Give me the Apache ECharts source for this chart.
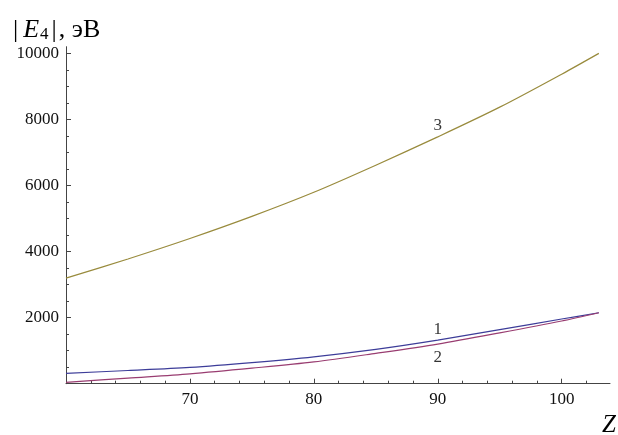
<!DOCTYPE html>
<html>
<head>
<meta charset="utf-8">
<script src="https://cdn.jsdelivr.net/npm/echarts@6/dist/echarts.min.js"></script>
<style>html,body{margin:0;padding:0;background:#fff;}#c{width:618px;height:435px;}</style>
</head>
<body>
<div id="c"></div>
<script>
// Z values (x)
const zValues = [60, 65, 70, 75, 80, 85, 90, 95, 100, 103];
// |E4| in eV for the three curves
const curve1 = [315, 400, 495, 640, 815, 1040, 1320, 1640, 1960, 2150];
const curve2 = [40, 170, 300, 470, 660, 920, 1200, 1540, 1900, 2150];
const curve3 = [3200, 3780, 4400, 5070, 5800, 6620, 7480, 8380, 9380, 10010];
// tick labels
const xTickLabels = [70, 80, 90, 100];
const yTickLabels = [2000, 4000, 6000, 8000, 10000];
const xTicks = [60, 70, 80, 90, 100];
const yTicks = [0, 2000, 4000, 6000, 8000, 10000];
// curve number annotations
const noteText = ['1', '2', '3'];
const noteZ = [90.0, 90.0, 90.0];
const noteV = [1630, 800, 7810];

const FONT = '"Liberation Serif", "DejaVu Serif", serif';
const axisColor = '#444';

function pairs(xs, ys) { return xs.map((x, i) => [x, ys[i]]); }

const chart = echarts.init(document.getElementById('c'), null, {renderer: 'canvas'});
chart.setOption({
  animation: false,
  backgroundColor: '#fff',
  grid: {left: 66, right: 8, top: 46.7, bottom: 51.3, containLabel: false},
  xAxis: {
    type: 'value', min: 60, max: 103.9, interval: 10,
    axisLine: {show: true, onZero: false, lineStyle: {color: axisColor, width: 1}},
    axisTick: {show: true, inside: true, length: 5, customValues: xTicks, lineStyle: {color: axisColor}},
    minorTick: {show: true, splitNumber: 5, length: 3, lineStyle: {color: axisColor}},
    axisLabel: {customValues: xTickLabels, formatter: v => String(v), color: '#111', fontFamily: FONT, fontSize: 17, margin: 7},
    splitLine: {show: false}
  },
  yAxis: {
    type: 'value', min: 0, max: 10212, interval: 2000,
    axisLine: {show: true, onZero: false, lineStyle: {color: axisColor, width: 1}},
    axisTick: {show: true, inside: true, length: 5, customValues: yTicks, lineStyle: {color: axisColor}},
    minorTick: {show: true, splitNumber: 4, length: 3, lineStyle: {color: axisColor}},
    axisLabel: {customValues: yTickLabels, formatter: v => String(v), color: '#111', fontFamily: FONT, fontSize: 17, margin: 7},
    splitLine: {show: false}
  },
  series: [
    {type: 'line', data: pairs(zValues, curve1), smooth: 0.3, showSymbol: false,
     lineStyle: {color: '#3d3d99', width: 1.2}, z: 3},
    {type: 'line', data: pairs(zValues, curve2), smooth: 0.3, showSymbol: false,
     lineStyle: {color: '#993d71', width: 1.2}, z: 3},
    {type: 'line', data: pairs(zValues, curve3), smooth: 0.3, showSymbol: false,
     lineStyle: {color: '#998b3d', width: 1.2}, z: 3},
    {type: 'scatter', symbolSize: 0,
     data: noteText.map((t, i) => ({value: [noteZ[i], noteV[i]], name: t})),
     label: {show: true, position: 'inside', formatter: p => p.name,
             fontFamily: FONT, fontSize: 17, color: '#000'}}
  ],
  graphic: [
    {type: 'text', left: 13, top: 17,
     style: {
       text: '{n||}{i|E}{s|4}{n||}{n|, эВ}',
       rich: {
         n: {fontFamily: FONT, fontSize: 26, fill: '#000', lineHeight: 30, verticalAlign: 'bottom', padding: [0, 2, 0, 0]},
         i: {fontFamily: FONT, fontSize: 26, fontStyle: 'italic', fill: '#000', lineHeight: 30, verticalAlign: 'bottom', padding: [0, 1, 0, 3]},
         s: {fontFamily: FONT, fontSize: 17, fill: '#000', lineHeight: 27, verticalAlign: 'bottom', padding: [0, 3, 0, 0]}
       }
     }},
    {type: 'text', left: 602, top: 413,
     style: {text: 'Z', fontFamily: FONT, fontSize: 25, fontStyle: 'italic', fill: '#000'}}
  ]
});
</script>
</body>
</html>
